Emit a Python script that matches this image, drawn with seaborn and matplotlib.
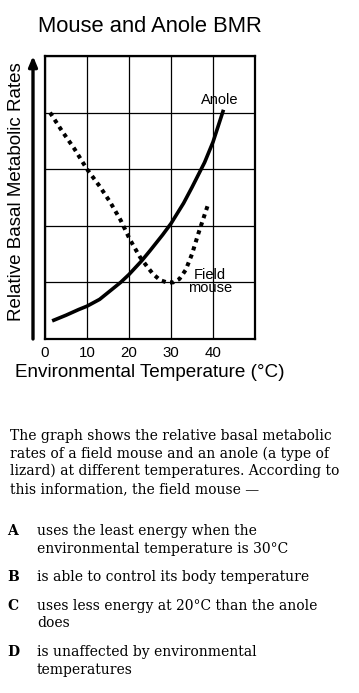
import numpy as np
import pandas as pd
import matplotlib
matplotlib.use('Agg')
import matplotlib.pyplot as plt
import seaborn as sns

# values (relative units, one grid row = 1)
anole_temp = [1.7, 5, 8, 10, 13, 15, 18, 20, 23, 25, 28, 30, 33, 35, 38, 40, 42.5]
anole_bmr = [0.32, 0.42, 0.52, 0.58, 0.7, 0.82, 1.0, 1.14, 1.38, 1.56, 1.84, 2.04, 2.4, 2.68, 3.12, 3.48, 4.05]

mouse_temp = [1.2, 4, 7, 10, 13, 15.5, 18, 20.2, 22.6, 24.3, 25.7, 27.4, 29, 30.5, 32,
              33.5, 35, 36.5, 38.7]
mouse_bmr = [4.0, 3.68, 3.36, 3.0, 2.7, 2.42, 2.1, 1.76, 1.45, 1.28, 1.15, 1.04, 1.0, 1.0, 1.06,
             1.22, 1.5, 1.86, 2.35]

x_ticks = [0, 10, 20, 30, 40]

question = ["The graph shows the relative basal metabolic",
            "rates of a field mouse and an anole (a type of",
            "lizard) at different temperatures. According to",
            "this information, the field mouse \u2014"]
choices = [("A", ["uses the least energy when the",
                  "environmental temperature is 30\u00b0C"]),
           ("B", ["is able to control its body temperature"]),
           ("C", ["uses less energy at 20\u00b0C than the anole",
                  "does"]),
           ("D", ["is unaffected by environmental",
                  "temperatures"])]

sns.set_style('white')
plt.rcParams['font.family'] = ['Liberation Sans', 'DejaVu Sans']
plt.rcParams['text.color'] = 'black'
plt.rcParams['axes.labelcolor'] = 'black'
plt.rcParams['xtick.color'] = 'black'
plt.rcParams['ytick.color'] = 'black'

W, H = 359, 693
fig = plt.figure(figsize=(W / 100, H / 100), dpi=100)
ax = fig.add_axes([45 / W, 1 - 339 / H, 210 / W, 283 / H])

anole = pd.DataFrame({'temp': anole_temp, 'bmr': anole_bmr})
mouse = pd.DataFrame({'temp': mouse_temp, 'bmr': mouse_bmr})

sns.lineplot(data=anole, x='temp', y='bmr', ax=ax, color='black', lw=2.6,
             sort=False, solid_capstyle='butt')
sns.lineplot(data=mouse, x='temp', y='bmr', ax=ax, color='black', lw=2.9,
             sort=False, linestyle=(0, (1.0, 1.1)), dash_capstyle='butt')

ax.set_xlim(0, 50)
ax.set_ylim(0, 5)
ax.set_xticks([0, 10, 20, 30, 40, 50])
ax.set_xticklabels([str(t) for t in x_ticks] + [''])
ax.set_yticks([0, 1, 2, 3, 4, 5])
ax.set_yticklabels([])
ax.grid(True, color='black', lw=0.9)
ax.tick_params(length=0, labelsize=10.8, pad=5)
for s in ax.spines.values():
    s.set_color('black')
    s.set_linewidth(1.6)

ax.set_xlabel('Environmental Temperature (\u00b0C)', fontsize=13.6, labelpad=3)
ax.set_ylabel('')
fig.text(17 / W, 1 - 192 / H, 'Relative Basal Metabolic Rates', rotation=90,
         fontsize=13.5, ha='center', va='center')
ax.set_title('Mouse and Anole BMR', fontsize=15.8, pad=17)

# y axis arrow
ax.annotate('', xy=(-12 / 210, 1.0), xytext=(-12 / 210, 0.0),
            xycoords='axes fraction', annotation_clip=False,
            arrowprops=dict(arrowstyle='-|>,head_length=0.6,head_width=0.25',
                            lw=2.4, color='black', shrinkA=0, shrinkB=0))

ax.text(41.7, 4.23, 'Anole', fontsize=10.5, ha='center', va='center')
ax.text(39.2, 1.02, 'Field\nmouse', fontsize=10.5, ha='center', va='center',
        linespacing=0.95)

# question text
serif = dict(family='DejaVu Serif', fontsize=10.0, va='center')
y = 436
for line in question:
    fig.text(10 / W, 1 - y / H, line, **serif)
    y += 17.6
y = 531
for letter, lines in choices:
    fig.text(7 / W, 1 - y / H, letter, fontweight='bold', **serif)
    for line in lines:
        fig.text(37 / W, 1 - y / H, line, **serif)
        y += 17.6
    y += 11

fig.savefig('out.png', dpi=100)
